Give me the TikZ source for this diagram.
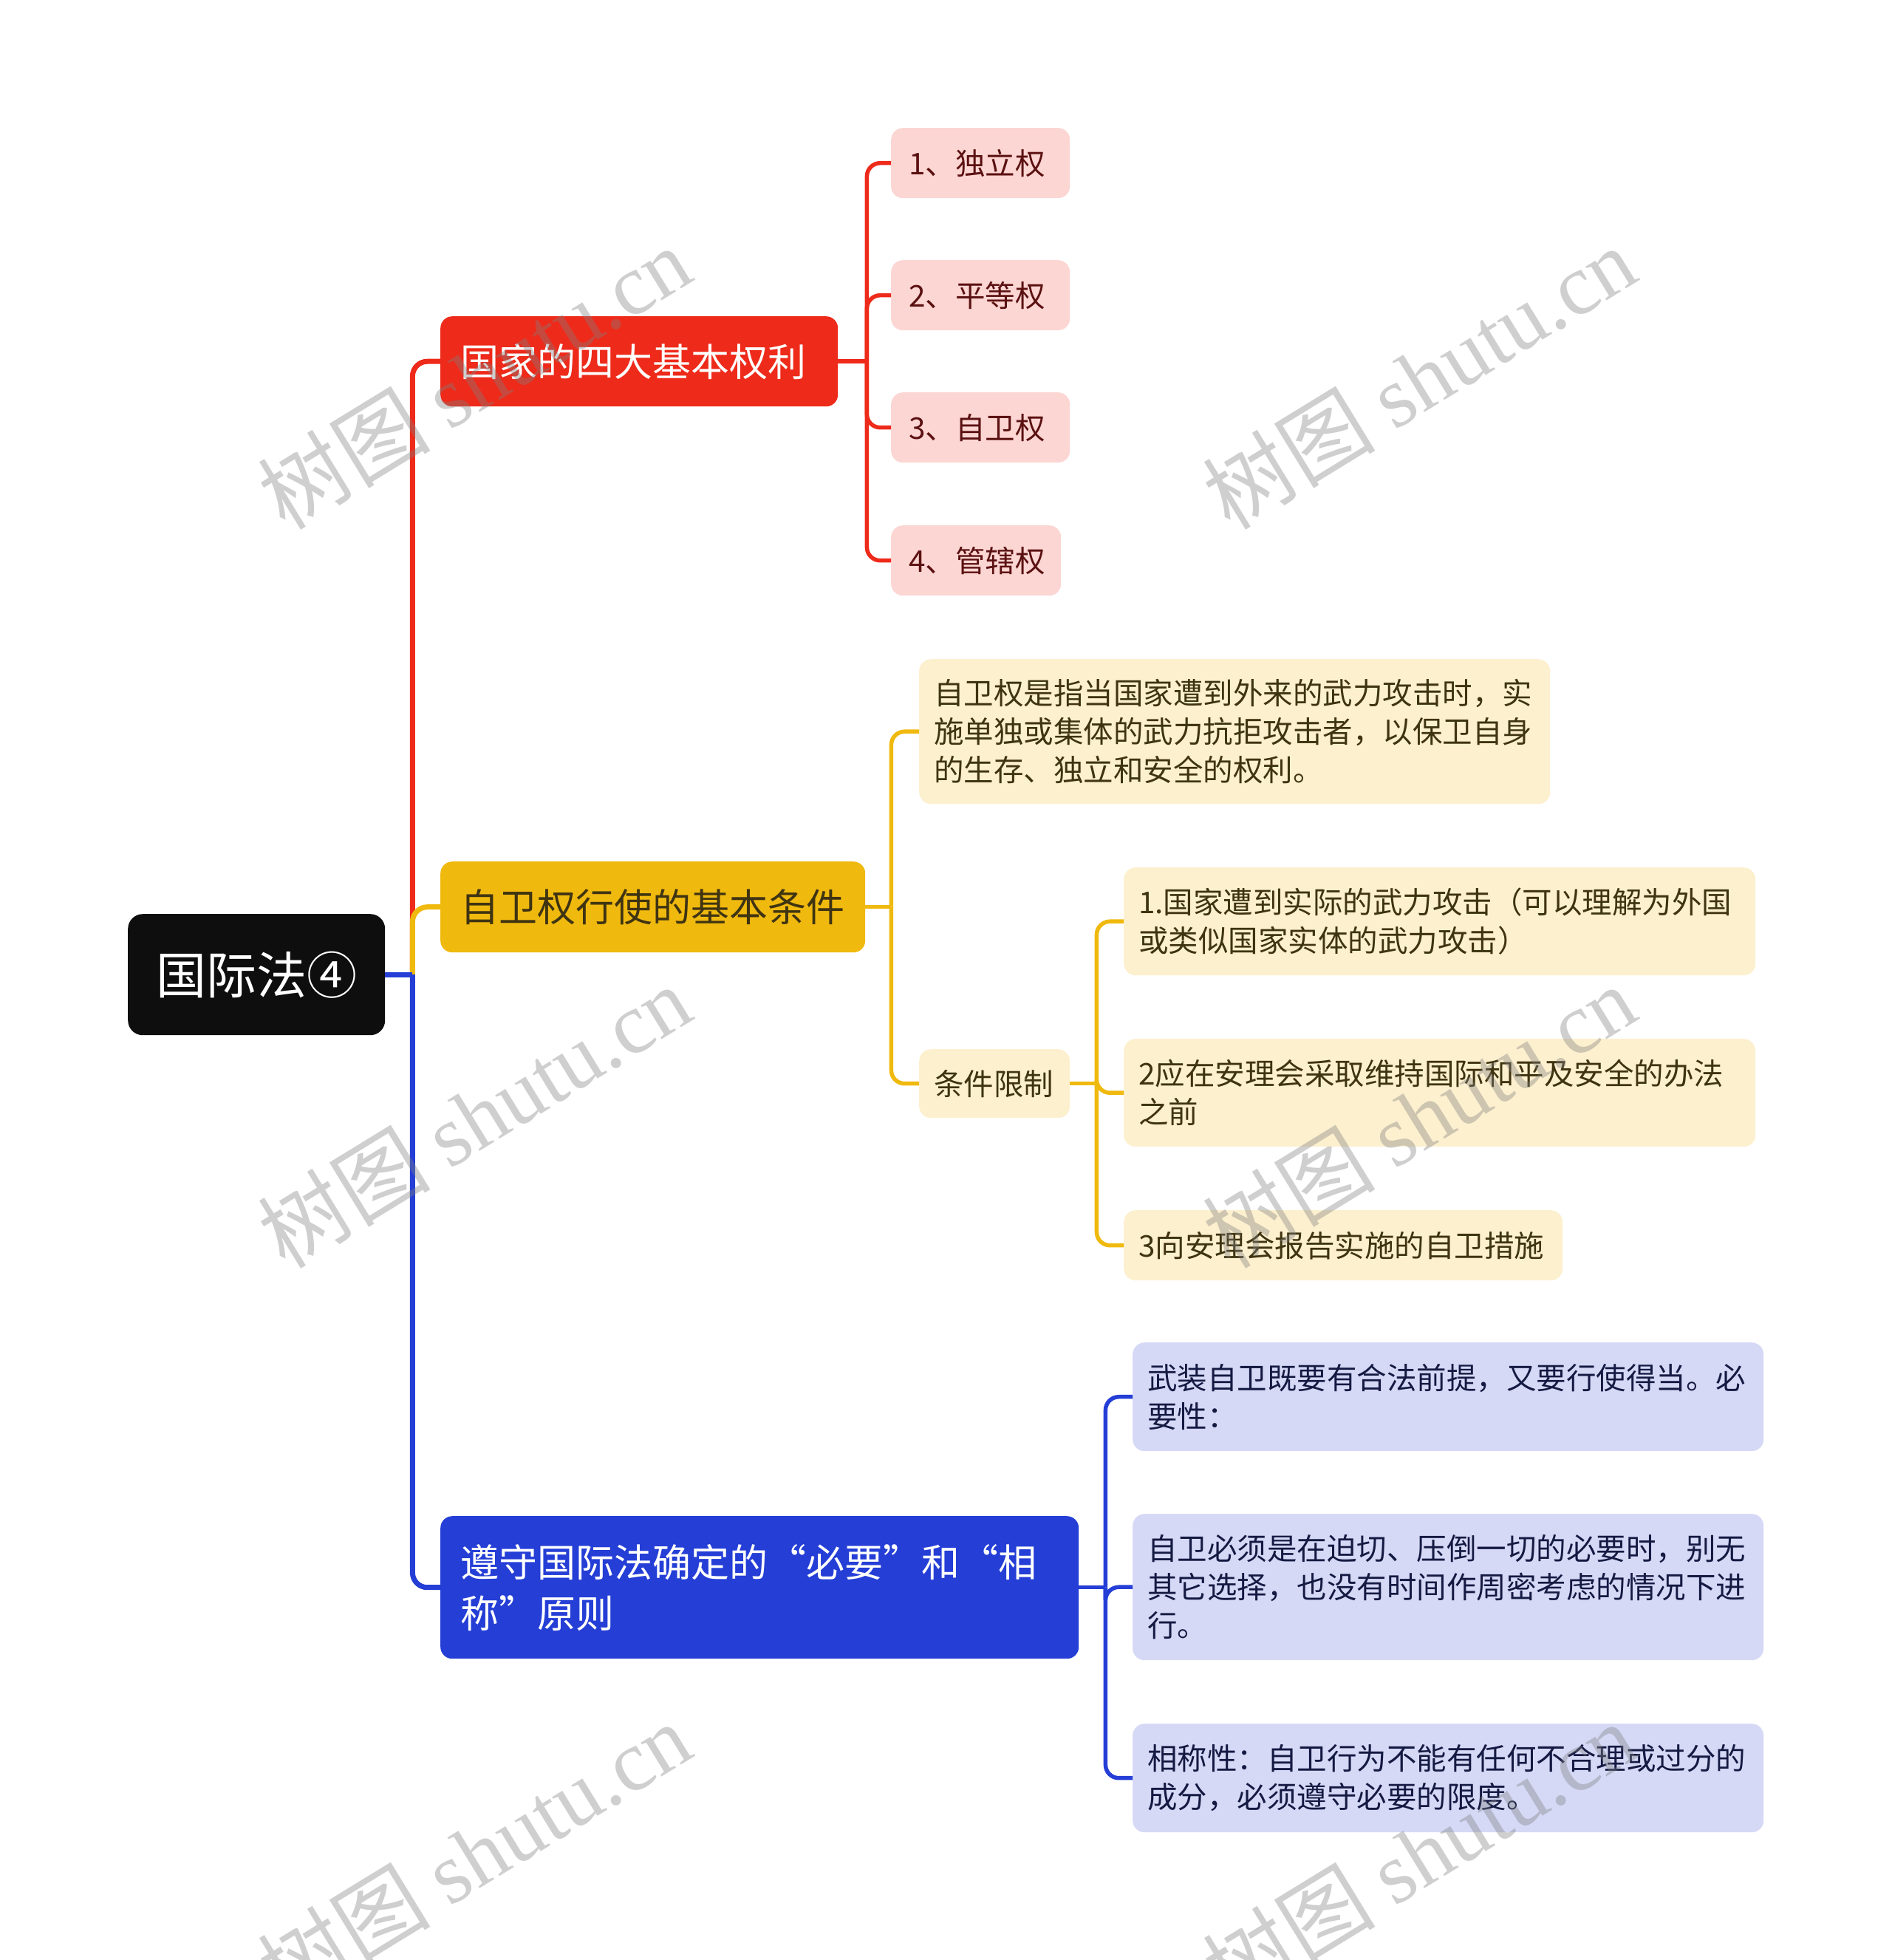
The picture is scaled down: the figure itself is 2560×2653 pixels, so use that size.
\documentclass[tikz,border=0pt]{standalone}
\usepackage{fontspec}
\setmainfont{Noto Sans CJK SC}
\newfontfamily\wmlatin{Liberation Serif}
\definecolor{cred}{HTML}{EE2A1A}
\definecolor{credlt}{HTML}{FCD6D3}
\definecolor{credtx}{HTML}{5B1111}
\definecolor{cyel}{HTML}{F0B90E}
\definecolor{cyellt}{HTML}{FDF0CF}
\definecolor{cyeltx}{HTML}{3F3412}
\definecolor{cblue}{HTML}{243ED6}
\definecolor{cbluelt}{HTML}{D5D9F6}
\definecolor{cbluetx}{HTML}{141A42}
\definecolor{croot}{HTML}{0E0E0E}
\definecolor{cwm}{HTML}{808080}
\begin{document}
\begin{tikzpicture}[x=1pt,y=-1pt,
  base/.style={rectangle, rounded corners=16pt, inner ysep=0pt, anchor=north west, align=left},
  rootbox/.style={base, fill=croot, text=white, align=center, rounded corners=20pt,
    font=\fontsize{68}{80}\selectfont},
  mainbox/.style={base, inner xsep=27pt, font=\fontsize{52}{69}\selectfont},
  kidbox/.style={base, inner xsep=20pt, font=\fontsize{40.5}{52}\selectfont},
  redkid/.style={kidbox, inner xsep=24pt, fill=credlt, text=credtx},
  yelkid/.style={kidbox, fill=cyellt, text=cyeltx},
  bluekid/.style={kidbox, fill=cbluelt, text=cbluetx},
  trunk/.style={line width=7pt, rounded corners=20pt},
  sub/.style={line width=5.5pt, rounded corners=18pt},
  wm/.style={text=cwm, opacity=0.38, rotate=31.5, font=\fontsize{117}{117}\selectfont}
]
\useasboundingbox (0,0) rectangle (2560,2653);

% root
\node[rootbox, minimum width=348pt, minimum height=164pt] (root) at (173,1237) {国际法④};

% main branches
\node[mainbox, fill=cred, text=white, text width=484pt, minimum height=122pt] (red) at (596,428) {国家的四大基本权利};
\node[mainbox, fill=cyel, text=cyeltx, text width=521pt, minimum height=123pt] (yel) at (596,1166) {自卫权行使的基本条件};
\node[mainbox, fill=cblue, text=white, text width=810pt, minimum height=193pt] (blue) at (596,2052) {遵守国际法确定的“必要”和“相\\称”原则};

% red children
\node[redkid, text width=194pt, minimum height=95pt] (r1) at (1206,173) {1、独立权};
\node[redkid, text width=194pt, minimum height=95pt] (r2) at (1206,352) {2、平等权};
\node[redkid, text width=194pt, minimum height=95pt] (r3) at (1206,531) {3、自卫权};
\node[redkid, text width=182pt, minimum height=95pt] (r4) at (1206,711) {4、管辖权};

% yellow children
\node[yelkid, text width=814pt, minimum height=196pt] (ya) at (1244,892) {自卫权是指当国家遭到外来的武力攻击时，实\\施单独或集体的武力抗拒攻击者，以保卫自身\\的生存、独立和安全的权利。};
\node[yelkid, text width=164pt, minimum height=93pt] (cond) at (1244,1420) {条件限制};
\node[yelkid, text width=815pt, minimum height=146pt] (g1) at (1521,1174) {1.国家遭到实际的武力攻击（可以理解为外国\\或类似国家实体的武力攻击）};
\node[yelkid, text width=815pt, minimum height=146pt] (g2) at (1521,1406) {2应在安理会采取维持国际和平及安全的办法\\之前};
\node[yelkid, text width=554pt, minimum height=95pt] (g3) at (1521,1638) {3向安理会报告实施的自卫措施};

% blue children
\node[bluekid, text width=814pt, minimum height=147pt] (b1) at (1533,1817) {武装自卫既要有合法前提，又要行使得当。必\\要性：};
\node[bluekid, text width=814pt, minimum height=198pt] (b2) at (1533,2049) {自卫必须是在迫切、压倒一切的必要时，别无\\其它选择，也没有时间作周密考虑的情况下进\\行。};
\node[bluekid, text width=814pt, minimum height=147pt] (b3) at (1533,2333) {相称性：自卫行为不能有任何不合理或过分的\\成分，必须遵守必要的限度。};

% trunk connectors
\coordinate (J) at ([xshift=37pt]root.east);
\draw[trunk, cred] (J) |- (red.west);
\draw[trunk, cyel] (J) |- (yel.west);
\draw[trunk, cblue] (J) |- (blue.west);
\draw[trunk, cblue] (root.east) -- (J);

% red sub connectors
\coordinate (RJ) at ([xshift=39pt]red.east);
\draw[sub, cred] (red.east) -- (RJ);
\draw[sub, cred] (RJ) |- (r1.west);
\draw[sub, cred] (RJ) |- (r2.west);
\draw[sub, cred] (RJ) |- (r3.west);
\draw[sub, cred] (RJ) |- (r4.west);

% yellow sub connectors
\coordinate (YJ) at ([xshift=35pt]yel.east);
\draw[sub, cyel] (yel.east) -- (YJ);
\draw[sub, cyel] (YJ) |- (ya.west);
\draw[sub, cyel] (YJ) |- (cond.west);
\coordinate (CJ) at ([xshift=36pt]cond.east);
\draw[sub, cyel] (cond.east) -- (CJ);
\draw[sub, cyel] (CJ) |- (g1.west);
\draw[sub, cyel] (CJ) |- (g2.west);
\draw[sub, cyel] (CJ) |- (g3.west);

% blue sub connectors
\coordinate (BJ) at ([xshift=36pt]blue.east);
\draw[sub, cblue] (blue.east) -- (BJ);
\draw[sub, cblue] (BJ) |- (b1.west);
\draw[sub, cblue] (BJ) |- (b2.west);
\draw[sub, cblue] (BJ) |- (b3.west);

% watermarks
\node[wm] (w1) at (642,511) {树图 {\wmlatin shutu.cn}};
\node[wm] (w2) at (1921,511) {树图 {\wmlatin shutu.cn}};
\node[wm] (w3) at (642,1511) {树图 {\wmlatin shutu.cn}};
\node[wm] (w4) at (1921,1511) {树图 {\wmlatin shutu.cn}};
\node[wm] (w5) at (642,2509) {树图 {\wmlatin shutu.cn}};
\node[wm] (w6) at (1921,2509) {树图 {\wmlatin shutu.cn}};
\end{tikzpicture}
\end{document}
